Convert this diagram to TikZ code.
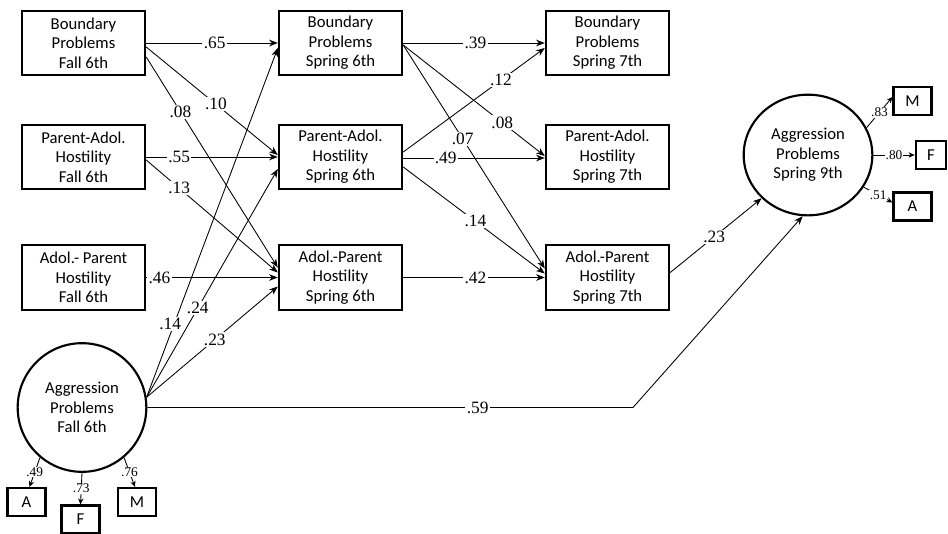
\documentclass[tikz,border=0pt]{standalone}
\usepackage{fontspec}
\setmainfont{Carlito}
\newfontfamily\lblfont{Liberation Serif}
\usetikzlibrary{arrows.meta,calc,shapes.geometric}
\begin{document}
\begin{tikzpicture}[x=0.75pt,y=-0.75pt,
  box/.style={draw,line width=1.6pt,minimum width=92.5pt,minimum height=48.5pt,align=center,inner sep=1pt,font=\fontsize{12.5}{14.6}\selectfont},
  lat/.style={draw,circle,line width=1.6pt,minimum size=96.5pt,align=center,inner sep=0pt,font=\fontsize{12.5}{14.6}\selectfont},
  lattwo/.style={draw,ellipse,line width=1.6pt,minimum width=96.5pt,minimum height=90.5pt,align=center,inner sep=0pt,font=\fontsize{12.5}{14.6}\selectfont},
  ind/.style={draw,line width=1.6pt,minimum width=28.5pt,minimum height=21pt,inner sep=0pt,font=\fontsize{12.5}{14}\selectfont},
  conn/.style={line width=0.65pt,-{Stealth[length=6.5pt,width=5pt,inset=2pt]}},
  sconn/.style={line width=0.65pt,-{Stealth[length=4.5pt,width=4pt,inset=1.4pt]}},
  lbl/.style={fill=white,inner sep=1pt,font=\lblfont\fontsize{13}{13}\selectfont},
  slbl/.style={fill=white,inner sep=0.5pt,font=\lblfont\fontsize{10}{10}\selectfont},
]
\useasboundingbox (0,0) rectangle (948,533);
\clip (0,0) rectangle (948,533);

% observed boxes
\node[box] (bf)  at (83.5,43)    {Boundary\\Problems\\Fall 6th};
\node[box] (pf)  at (83.5,157)   {Parent-Adol.\\Hostility\\Fall 6th};
\node[box] (af)  at (83.5,277.5) {Adol.- Parent\\Hostility\\Fall 6th};
\node[box] (bs6) at (340.5,43)   {Boundary\\Problems\\Spring 6th};
\node[box] (ps6) at (340.5,157)  {Parent-Adol.\\Hostility\\Spring 6th};
\node[box] (as6) at (340.5,277.5){Adol.-Parent\\Hostility\\Spring 6th};
\node[box] (bs7) at (607.5,43)   {Boundary\\Problems\\Spring 7th};
\node[box] (ps7) at (607.5,157)  {Parent-Adol.\\Hostility\\Spring 7th};
\node[box] (as7) at (607.5,277.5){Adol.-Parent\\Hostility\\Spring 7th};

% latent variables
\node[lat] (c1) at (82,407.5) {Aggression\\Problems\\Fall 6th};
\node[lattwo] (c2) at (808,155) {Aggression\\Problems\\Spring 9th};

% indicators
\node[ind] (a1) at (26.5,502) {A};
\node[ind] (f1) at (80.5,519.5) {F};
\node[ind] (m1) at (137,502) {M};
\node[ind] (m2) at (912.5,101) {M};
\node[ind,minimum width=23pt] (f2) at (931,155) {F};
\node[ind] (a2) at (912.5,206.5) {A};

% Fall 6th -> Spring 6th
\draw[conn] (bf.east) -- node[lbl,pos=0.52]{.65} (bs6.west);
\draw[conn] ($(bf.east)+(0,4)$) -- node[lbl,pos=0.53]{.10} ($(ps6.west)+(0,-2)$);
\draw[conn] ($(bf.east)+(0,14)$) -- node[lbl,pos=0.26]{.08} ($(as6.west)+(0,-10)$);
\draw[conn] (pf.east) -- node[lbl,pos=0.25]{.55} (ps6.west);
\draw[conn] ($(pf.east)+(0,3)$) -- node[lbl,pos=0.25]{.13} ($(as6.west)+(0,-5)$);
\draw[conn] (af.east) -- node[lbl,pos=0.1]{.46} (as6.west);
\draw[conn] (c1.9) -- node[lbl,pos=0.21,xshift=-3pt]{.14} ($(bs6.west)+(0,5)$);
\draw[conn] (c1.9) -- node[lbl,pos=0.39]{.24} ($(ps6.west)+(0,12)$);
\draw[conn] (c1.9) -- node[lbl,pos=0.52]{.23} ($(as6.west)+(0,9)$);

% Spring 6th -> Spring 7th
\draw[conn] (bs6.east) -- node[lbl,pos=0.51]{.39} (bs7.west);
\draw[conn] ($(bs6.east)+(0,2)$) -- node[lbl,pos=0.7]{.08} ($(ps7.west)+(0,-1)$);
\draw[conn] ($(bs6.east)+(0,2)$) -- node[lbl,pos=0.42]{.07} ($(as7.west)+(0,-9)$);
\draw[conn] ($(ps6.east)+(0,-5)$) -- node[lbl,pos=0.69]{.12} ($(bs7.west)+(0,5)$);
\draw[conn] ($(ps6.east)+(0,1)$) -- node[lbl,pos=0.3]{.49} ($(ps7.west)+(0,1)$);
\draw[conn] ($(ps6.east)+(0,10)$) -- node[lbl,pos=0.51]{.14} ($(as7.west)+(0,-4)$);
\draw[conn] (as6.east) -- node[lbl,pos=0.51]{.42} (as7.west);

% to Spring 9th
\draw[conn] ($(as7.east)+(0,-5)$) -- node[lbl,pos=0.48]{.23} (c2.-137);
\coordinate (bend) at (633,407.5);
\draw[conn] (c1.east) -- node[lbl,pos=0.68]{.59} (bend) -- (c2.-95);

% measurement paths
\draw[sconn] (c1.230) -- node[slbl]{.49} ($(a1.north)+(3,0)$);
\draw[sconn] (c1.south) -- node[slbl]{.73} (f1.north);
\draw[sconn] (c1.310) -- node[slbl]{.76} ($(m1.north)+(-2,0)$);
\draw[sconn] (c2.25) -- node[slbl]{.83} ($(m2.west)+(0,-4)$);
\draw[sconn] (c2.east) -- node[slbl]{.80} (f2.west);
\draw[sconn] (c2.-30) -- node[slbl]{.51} ($(a2.west)+(0,-4)$);
\end{tikzpicture}
\end{document}
